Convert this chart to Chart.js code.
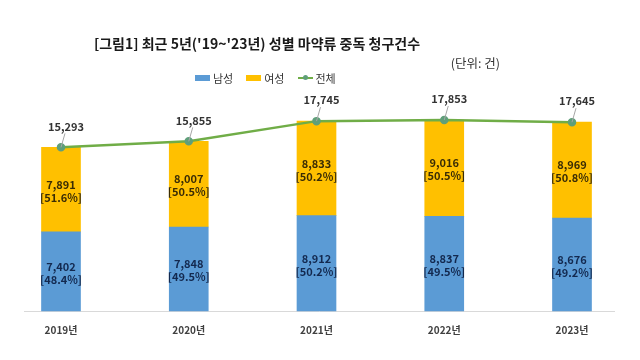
<!DOCTYPE html>
<html>
<head>
<meta charset="utf-8">
<script src="https://cdn.jsdelivr.net/npm/chart.js@4/dist/chart.umd.min.js"></script>
<style>
  html, body { margin: 0; padding: 0; background: #fff; }
  #wrap { position: relative; width: 640px; height: 360px; font-family: "Noto Sans CJK KR", "Noto Sans", sans-serif; }
  #title { position: absolute; left: 0; width: 514px; top: 33px; text-align: center; font-size: 14px; font-weight: bold; color: #1a1a1a; white-space: nowrap; }
  #unit { position: absolute; right: 140px; top: 53px; font-size: 12.5px; color: #333; }
  #legend { position: absolute; left: 195px; top: 70px; display: flex; align-items: center; font-size: 11px; color: #333; }
  #legend .item { display: flex; align-items: center; margin-right: 13px; }
  #legend .box { width: 15px; height: 6px; margin-right: 3px; }
  #legend .ln { position: relative; width: 15px; height: 2px; margin-right: 3px; background: #70AD47; }
  #legend .ln::after { content: ""; position: absolute; left: 5px; top: -2px; width: 5px; height: 5px; border-radius: 50%; background: #5f9f7a; }
  canvas { position: absolute; left: 0; top: 0; }
</style>
</head>
<body>
<div id="wrap">
  <canvas id="drugChart" width="640" height="360"></canvas>
  <div id="title">[그림1] 최근 5년('19~'23년) 성별 마약류 중독 청구건수</div>
  <div id="unit">(단위: 건)</div>
  <div id="legend">
    <div class="item"><span class="box" style="background:#5B9BD5"></span>남성</div>
    <div class="item"><span class="box" style="background:#FFC000"></span>여성</div>
    <div class="item"><span class="ln"></span>전체</div>
  </div>
</div>
<script>
const years = ['2019년', '2020년', '2021년', '2022년', '2023년'];
const male = [7402, 7848, 8912, 8837, 8676];
const female = [7891, 8007, 8833, 9016, 8969];
const total = [15293, 15855, 17745, 17853, 17645];
const malePct = ['48.4%', '49.5%', '50.2%', '49.5%', '49.2%'];
const femalePct = ['51.6%', '50.5%', '50.2%', '50.5%', '50.8%'];

const BLUE = '#5B9BD5';
const GOLD = '#FFC000';
const GREEN = '#70AD47';

function fmt(v) {
    return v.toLocaleString('en-US');
}

// baseline drawn wider than the category span, like the original
const axisLinePlugin = {
    id: 'axisLine',
    beforeDatasetsDraw(chart) {
        const { ctx, chartArea } = chart;
        ctx.save();
        ctx.strokeStyle = '#d9d9d9';
        ctx.lineWidth = 1;
        ctx.beginPath();
        ctx.moveTo(chartArea.left - 37, chartArea.bottom + 0.5);
        ctx.lineTo(chartArea.right + 43, chartArea.bottom + 0.5);
        ctx.stroke();
        ctx.restore();
    }
};

const labelPlugin = {
    id: 'valueLabels',
    afterDatasetsDraw(chart) {
        const ctx = chart.ctx;
        ctx.save();
        ctx.textAlign = 'center';
        ctx.textBaseline = 'middle';
        ctx.font = 'bold 11px "Noto Sans CJK KR", "Noto Sans", sans-serif';

        const inner = [
            { idx: 0, vals: male, pct: malePct, color: '#13294f' },
            { idx: 1, vals: female, pct: femalePct, color: '#3a2c05' }
        ];
        inner.forEach(s => {
            chart.getDatasetMeta(s.idx).data.forEach((bar, i) => {
                const cy = (bar.y + bar.base) / 2 + 1;
                ctx.fillStyle = s.color;
                ctx.fillText(fmt(s.vals[i]), bar.x, cy - 6);
                ctx.fillText('[' + s.pct[i] + ']', bar.x, cy + 7);
            });
        });

        chart.getDatasetMeta(2).data.forEach((pt, i) => {
            ctx.strokeStyle = '#a6a6a6';
            ctx.lineWidth = 1;
            ctx.beginPath();
            ctx.moveTo(pt.x + 4, pt.y - 14);
            ctx.lineTo(pt.x, pt.y);
            ctx.stroke();
            ctx.fillStyle = '#333';
            ctx.fillText(fmt(total[i]), pt.x + 5, pt.y - 21);
        });
        ctx.restore();
    }
};

new Chart(document.getElementById('drugChart'), {
    type: 'bar',
    data: {
        labels: years,
        datasets: [
            {
                label: '남성',
                data: male,
                backgroundColor: BLUE,
                barThickness: 39,
                stack: 'sex',
                clip: false,
                order: 2
            },
            {
                label: '여성',
                data: female,
                backgroundColor: GOLD,
                barThickness: 39,
                stack: 'sex',
                clip: false,
                order: 2
            },
            {
                type: 'line',
                label: '전체',
                data: total,
                borderColor: GREEN,
                borderWidth: 2.5,
                pointRadius: 3,
                pointBackgroundColor: '#5f9f7a',
                pointBorderColor: '#5f9f7a',
                stack: 'total',
                clip: false,
                tension: 0,
                order: 1
            }
        ]
    },
    options: {
        responsive: false,
        animation: false,
        layout: {
            padding: { left: 61, right: 68, top: 97, bottom: 19 }
        },
        plugins: {
            legend: { display: false },
            title: { display: false },
            tooltip: { enabled: false }
        },
        scales: {
            x: {
                stacked: true,
                offset: false,
                grid: { display: false },
                border: { display: false },
                ticks: {
                    padding: 5,
                    color: '#404040',
                    font: { size: 10, weight: 'bold', family: '"Noto Sans CJK KR", "Noto Sans", sans-serif' }
                }
            },
            y: {
                display: false,
                stacked: true,
                min: 0,
                max: 20000
            }
        }
    },
    plugins: [axisLinePlugin, labelPlugin]
});
</script>
</body>
</html>
